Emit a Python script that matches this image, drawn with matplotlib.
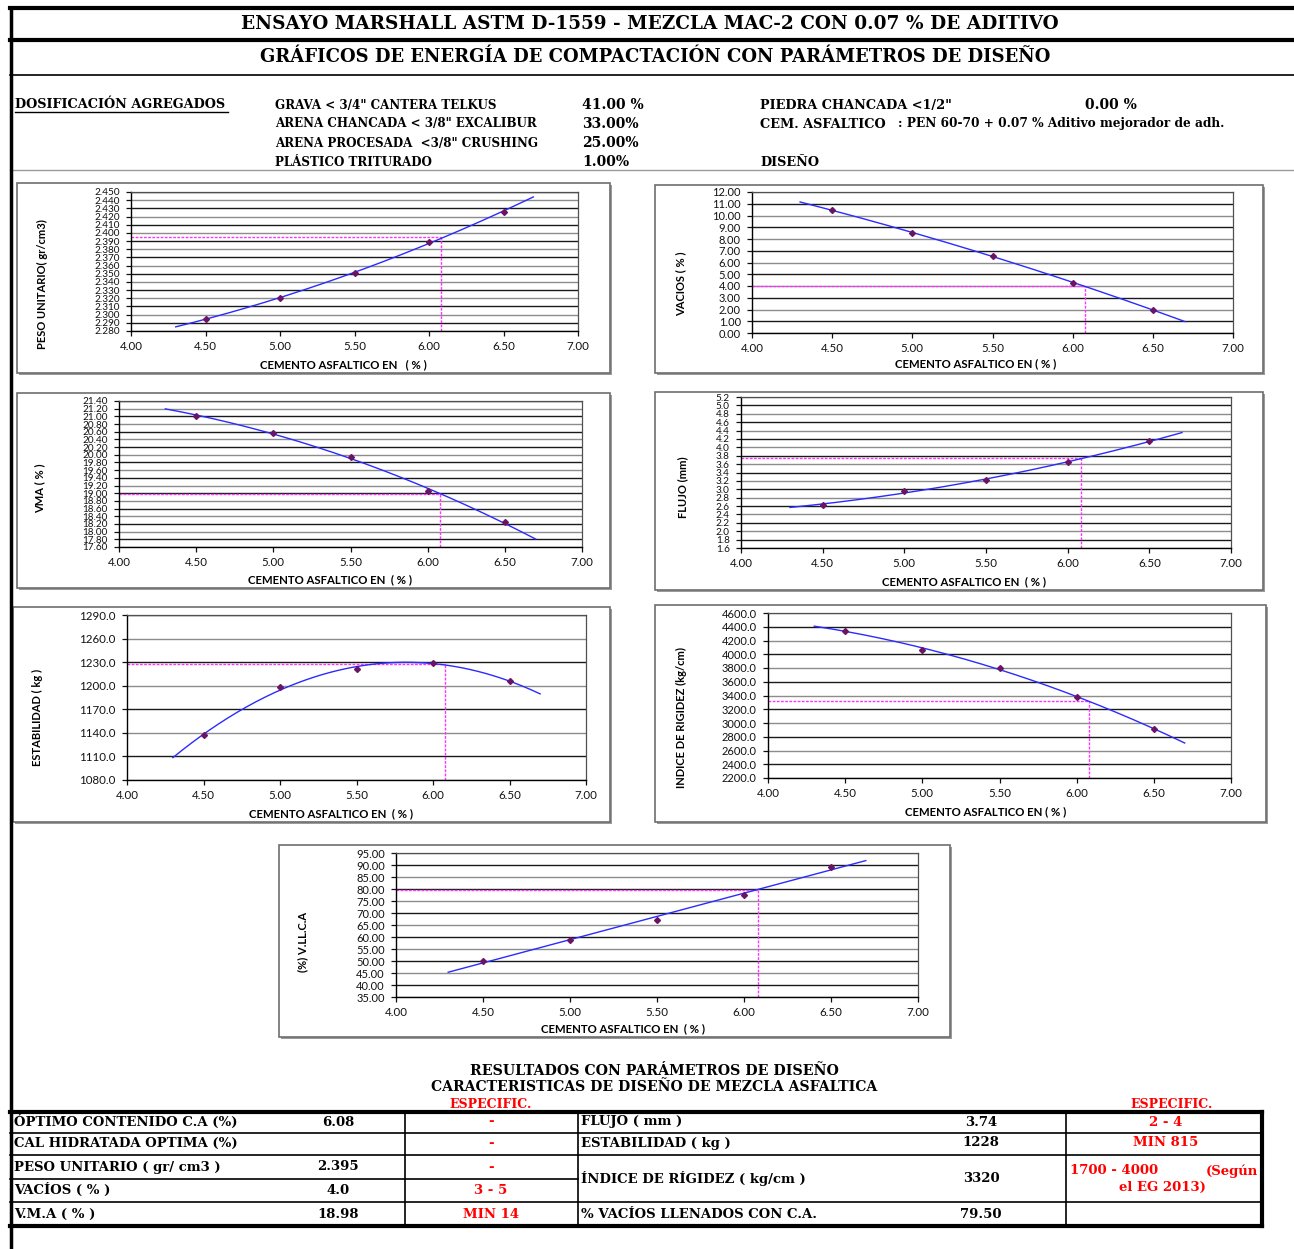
import numpy as np
import matplotlib.pyplot as plt
from matplotlib.patches import Rectangle
from matplotlib.lines import Line2D
from matplotlib.ticker import MultipleLocator, FormatStrFormatter

W, H = 1294, 1249

# contenido de cemento asfaltico (%) de las briquetas
asphalt_pct = [4.50, 5.00, 5.50, 6.00, 6.50]

# resultados Marshall por contenido de C.A.
peso_unitario = [2.295, 2.320, 2.351, 2.389, 2.426]
vacios = [10.45, 8.52, 6.57, 4.28, 1.97]
vma = [21.02, 20.56, 19.94, 19.06, 18.24]
flujo = [2.63, 2.96, 3.22, 3.64, 4.15]
estabilidad = [1137.0, 1198.0, 1221.0, 1229.0, 1206.0]
rigidez = [4345.0, 4060.0, 3805.0, 3380.0, 2915.0]
vllca = [50.2, 58.7, 67.2, 77.6, 89.2]

# parametros de diseno
optimo_ca = 6.08
d_peso = 2.395
d_vacios = 4.0
d_vma = 18.98
d_flujo = 3.74
d_estab = 1228
d_rigidez = 3320
d_vllca = 79.50

# dosificacion
agregados = ['GRAVA < 3/4" CANTERA TELKUS', 'ARENA CHANCADA < 3/8" EXCALIBUR',
             'ARENA PROCESADA  <3/8" CRUSHING', 'PLÁSTICO TRITURADO']
agregados_pct = ['41.00 %', '33.00%', '25.00%', '1.00%']

SERIF = 'DejaVu Serif'
SANS = 'Lato'


def fx(x):
    return x / W


def fy(y):
    return 1 - y / H


def hline(fig, x0, x1, y, lw=1.0, color='black'):
    fig.add_artist(Line2D([fx(x0), fx(x1)], [fy(y), fy(y)], color=color, lw=lw))


def vline(fig, x, y0, y1, lw=1.0, color='black'):
    fig.add_artist(Line2D([fx(x), fx(x)], [fy(y0), fy(y1)], color=color, lw=lw))


def ftext(fig, x, y, s, size=9, ha='left', color='black', family=SERIF, **kw):
    return fig.text(fx(x), fy(y), s, ha=ha, va='center', fontsize=size,
                    color=color, family=family, fontweight='bold', **kw)


def chart(fig, box, plot, values, design, ylim, step, fmt, ylabel, ylabel_xy, xlabel_xy,
          order=2, ysize=8.3):
    bx0, by0, bx1, by1 = box
    fig.add_artist(Rectangle((fx(bx0 + 2), fy(by1 + 2)), (bx1 - bx0) / W, (by1 - by0) / H,
                             transform=fig.transFigure, facecolor='#9a9a9a', edgecolor='none', zorder=-2))
    fig.add_artist(Rectangle((fx(bx0), fy(by1)), (bx1 - bx0) / W, (by1 - by0) / H,
                             transform=fig.transFigure, facecolor='white', edgecolor='#6e6e6e',
                             lw=1.2, zorder=-1))

    x0, y0, x1, y1 = plot
    ax = fig.add_axes([fx(x0), fy(y1), (x1 - x0) / W, (y1 - y0) / H])
    ax.patch.set_alpha(0)
    ax.set_xlim(4.0, 7.0)
    ax.set_ylim(*ylim)
    ax.xaxis.set_major_locator(MultipleLocator(0.5))
    ax.xaxis.set_major_formatter(FormatStrFormatter('%.2f'))
    ax.yaxis.set_major_locator(MultipleLocator(step))
    ax.yaxis.set_major_formatter(FormatStrFormatter(fmt))
    ax.tick_params(axis='both', length=3.5, width=0.9, colors='#111111')
    ax.tick_params(axis='x', pad=3.5, labelsize=8.3)
    ax.tick_params(axis='y', pad=4.5, labelsize=ysize)
    for lab in ax.get_xticklabels() + ax.get_yticklabels():
        lab.set_family(SANS)
    ax.grid(axis='y', lw=1.0)
    for i, gl in enumerate(ax.get_ygridlines()):
        gl.set_color('#1a1a1a' if i % 2 == 0 else '#8c8c8c')
    ax.set_axisbelow(True)
    for side in ['left', 'bottom']:
        ax.spines[side].set_color('black')
        ax.spines[side].set_linewidth(1.0)
    for side in ['right', 'top']:
        ax.spines[side].set_color('#505050')
        ax.spines[side].set_linewidth(0.9)

    # linea de tendencia polinomica, como en la hoja de calculo
    coef = np.polyfit(asphalt_pct, values, order)
    xs = np.linspace(4.3, 6.7, 200)
    ax.plot(xs, np.polyval(coef, xs), color='#2b2bff', lw=1.0, zorder=3)
    ax.plot(asphalt_pct, values, 'D', ms=3, color='#6b1466', zorder=4)

    # lineas del optimo
    ax.plot([4.0, optimo_ca], [design, design], color='#ff33ff', lw=1.0, ls=(0, (2, 1)), zorder=2)
    ax.plot([optimo_ca, optimo_ca], [ylim[0], design], color='#ff33ff', lw=1.0, ls=(0, (2, 1)), zorder=2)

    fig.text(fx(ylabel_xy[0]), fy(ylabel_xy[1]), ylabel, rotation=90, ha='center', va='center',
             fontsize=8.0, family=SANS, fontweight='bold')
    fig.text(fx(xlabel_xy[0]), fy(xlabel_xy[1]), xlabel_xy[2], ha='center', va='center',
             fontsize=8.2, family=SANS, fontweight='bold')
    return ax


fig = plt.figure(figsize=(W / 100, H / 100), dpi=100)
fig.patch.set_facecolor('white')

# encabezado
hline(fig, 10, 1294, 8, lw=3)
hline(fig, 10, 1294, 40, lw=3)
hline(fig, 10, 1294, 75, lw=1.2)
hline(fig, 10, 1294, 170, lw=1.0, color='#9a9a9a')
vline(fig, 11, 8, 1249, lw=2.5)

ftext(fig, 650, 24, 'ENSAYO MARSHALL ASTM D-1559 - MEZCLA MAC-2 CON 0.07 % DE ADITIVO', size=13.3, ha='center')
ftext(fig, 655, 57, 'GRÁFICOS DE ENERGÍA DE COMPACTACIÓN CON PARÁMETROS DE DISEÑO', size=13, ha='center')

ftext(fig, 15, 105, 'DOSIFICACIÓN AGREGADOS', size=9.3)
hline(fig, 15, 228, 112, lw=1.0)
for i, (name, pct) in enumerate(zip(agregados, agregados_pct)):
    y = 105 + i * 19
    ftext(fig, 275, y, name, size=8.6)
    ftext(fig, 582, y, pct, size=10)
ftext(fig, 760, 105, 'PIEDRA CHANCADA <1/2"', size=9.3)
ftext(fig, 1085, 105, '0.00 %', size=10)
ftext(fig, 760, 124, 'CEM. ASFALTICO', size=9.3)
ftext(fig, 898, 124, ': PEN 60-70 + 0.07 % Aditivo mejorador de adh.', size=8.7)
ftext(fig, 760, 162, 'DISEÑO', size=9.3)

chart(fig, (17, 183, 610, 373), (131, 192, 578, 331), peso_unitario, d_peso,
      (2.280, 2.450), 0.010, '%.3f', 'PESO UNITARIO( gr/cm3)', (42, 284),
      (343, 365, 'CEMENTO ASFALTICO EN   ( % )'), ysize=7.2)
chart(fig, (655, 185, 1263, 373), (752, 192, 1233, 333), vacios, d_vacios,
      (0.0, 12.0), 1.0, '%.2f', 'VACIOS ( % )', (681, 284),
      (976, 364, 'CEMENTO ASFALTICO EN ( % )'), ysize=8.0)
chart(fig, (17, 393, 610, 588), (119, 401, 582, 547), vma, d_vma,
      (17.6, 21.4), 0.2, '%.2f', 'VMA ( % )', (40, 488),
      (330, 580, 'CEMENTO ASFALTICO EN  ( % )'), ysize=7.2)
chart(fig, (655, 392, 1263, 590), (741, 397, 1231, 548), flujo, d_flujo,
      (1.6, 5.2), 0.2, '%.1f', 'FLUJO (mm)', (683, 487),
      (964, 582, 'CEMENTO ASFALTICO EN  ( % )'), ysize=7.2)
chart(fig, (13, 607, 610, 822), (127, 615, 586, 780), estabilidad, d_estab,
      (1080.0, 1290.0), 30.0, '%.1f', 'ESTABILIDAD ( kg )', (37, 717),
      (331, 814, 'CEMENTO ASFALTICO EN  ( % )'))
chart(fig, (655, 605, 1266, 822), (768, 613, 1231, 778), rigidez, d_rigidez,
      (2200.0, 4600.0), 200.0, '%.1f', 'INDICE DE RIGIDEZ (kg/cm)', (681, 718),
      (986, 812, 'CEMENTO ASFALTICO EN ( % )'), ysize=8.0)
chart(fig, (279, 845, 950, 1037), (396, 853, 918, 997), vllca, d_vllca,
      (35.0, 95.0), 5.0, '%.2f', '(%) V.LL.C.A', (303, 942),
      (623, 1029, 'CEMENTO ASFALTICO EN  ( % )'), order=1, ysize=8.0)

# resultados
ftext(fig, 654, 1071, 'RESULTADOS CON PARÁMETROS DE DISEÑO', size=10.2, ha='center')
ftext(fig, 654, 1087, 'CARACTERISTICAS DE DISEÑO DE MEZCLA ASFALTICA', size=10.1, ha='center')
ftext(fig, 491, 1104, 'ESPECIFIC.', size=9, ha='center', color='red')
ftext(fig, 1172, 1104, 'ESPECIFIC.', size=9, ha='center', color='red')

tx0, tx1, ty0, ty1 = 10, 1262, 1112, 1226
hline(fig, tx0, tx1, ty0, lw=3)
hline(fig, tx0, tx1, ty1, lw=3)
vline(fig, tx1, ty0, ty1, lw=3)
for y in [1133, 1155, 1202]:
    hline(fig, tx0, tx1, y, lw=1.2)
hline(fig, tx0, 578, 1179, lw=1.2)
for x in [405, 578, 1066]:
    vline(fig, x, ty0, ty1, lw=1.2)

left_names = ['ÓPTIMO CONTENIDO C.A (%)', 'CAL HIDRATADA OPTIMA (%)', 'PESO UNITARIO ( gr/ cm3 )',
              'VACÍOS ( % )', 'V.M.A ( % )']
left_vals = ['6.08', '', '2.395', '4.0', '18.98']
left_spec = ['-', '-', '-', '3 - 5', 'MIN 14']
row_y = [1122, 1143, 1167, 1190, 1214]
for name, val, spec, y in zip(left_names, left_vals, left_spec, row_y):
    ftext(fig, 14, y, name, size=9.5)
    ftext(fig, 338, y, val, size=9.5, ha='center')
    ftext(fig, 491, y, spec, size=9.5, ha='center', color='red')

right_names = ['FLUJO ( mm )', 'ESTABILIDAD ( kg )', 'ÍNDICE DE RÍGIDEZ ( kg/cm )', '% VACÍOS LLENADOS CON C.A.']
right_vals = ['3.74', '1228', '3320', '79.50']
right_spec = ['2 - 4', 'MIN 815', '', '']
right_y = [1122, 1143, 1178, 1214]
for name, val, spec, y in zip(right_names, right_vals, right_spec, right_y):
    ftext(fig, 581, y, name, size=9.5)
    ftext(fig, 981, y, val, size=9.5, ha='center')
    if spec:
        ftext(fig, 1166, y, spec, size=9.5, ha='center', color='red')
ftext(fig, 1070, 1171, '1700 - 4000', size=9.5, color='red')
ftext(fig, 1258, 1171, '(Según', size=9.5, ha='right', color='red')
ftext(fig, 1162, 1187, 'el EG 2013)', size=9.5, ha='center', color='red')

fig.savefig('out.png', dpi=100)
